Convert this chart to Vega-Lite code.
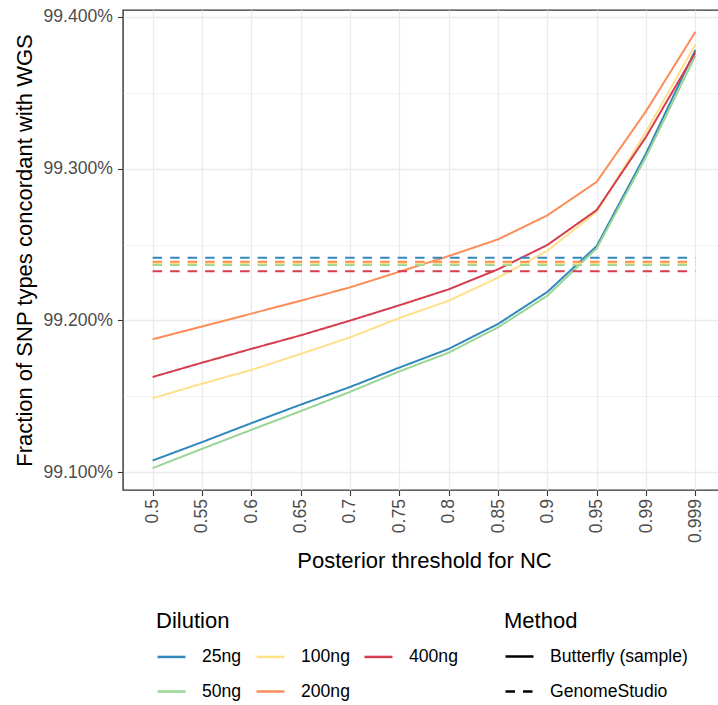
{
  "$schema": "https://vega.github.io/schema/vega-lite/v6.json",
  "width": 602,
  "height": 480,
  "autosize": {"type": "none"},
  "padding": {"left": 123, "top": 10, "right": 0, "bottom": 215},
  "background": "white",
  "config": {
    "font": "Liberation Sans",
    "view": {"stroke": "#333333", "strokeWidth": 1.4},
    "axis": {
      "domain": false,
      "tickColor": "#333333",
      "tickSize": 5.5,
      "tickWidth": 1.1,
      "labelColor": "#4D4D4D",
      "labelFontSize": 17.6,
      "labelFont": "Liberation Sans",
      "titleFont": "Liberation Sans",
      "titleFontSize": 22,
      "titleFontWeight": "normal",
      "titleColor": "black",
      "gridColor": "#EBEBEB",
      "gridWidth": 1.3
    },
    "legend": {
      "titleFont": "Liberation Sans",
      "labelFont": "Liberation Sans",
      "titleFontSize": 22,
      "titleFontWeight": "normal",
      "titleColor": "black",
      "labelFontSize": 17.6,
      "labelColor": "black",
      "symbolType": "stroke",
      "symbolSize": 784,
      "symbolStrokeWidth": 2.5,
      "labelOffset": 15,
      "columnPadding": 9,
      "rowPadding": 10,
      "titlePadding": 8
    }
  },
  "data": {
    "values": [
      {"threshold": "0.5", "dilution": "25ng", "method": "Butterfly (sample)", "concordance": 99.1078},
      {"threshold": "0.55", "dilution": "25ng", "method": "Butterfly (sample)", "concordance": 99.1199},
      {"threshold": "0.6", "dilution": "25ng", "method": "Butterfly (sample)", "concordance": 99.1324},
      {"threshold": "0.65", "dilution": "25ng", "method": "Butterfly (sample)", "concordance": 99.1446},
      {"threshold": "0.7", "dilution": "25ng", "method": "Butterfly (sample)", "concordance": 99.1562},
      {"threshold": "0.75", "dilution": "25ng", "method": "Butterfly (sample)", "concordance": 99.1690},
      {"threshold": "0.8", "dilution": "25ng", "method": "Butterfly (sample)", "concordance": 99.1813},
      {"threshold": "0.85", "dilution": "25ng", "method": "Butterfly (sample)", "concordance": 99.1977},
      {"threshold": "0.9", "dilution": "25ng", "method": "Butterfly (sample)", "concordance": 99.2188},
      {"threshold": "0.95", "dilution": "25ng", "method": "Butterfly (sample)", "concordance": 99.2490},
      {"threshold": "0.99", "dilution": "25ng", "method": "Butterfly (sample)", "concordance": 99.3100},
      {"threshold": "0.999", "dilution": "25ng", "method": "Butterfly (sample)", "concordance": 99.3781},
      {"threshold": "0.5", "dilution": "50ng", "method": "Butterfly (sample)", "concordance": 99.1028},
      {"threshold": "0.55", "dilution": "50ng", "method": "Butterfly (sample)", "concordance": 99.1155},
      {"threshold": "0.6", "dilution": "50ng", "method": "Butterfly (sample)", "concordance": 99.1280},
      {"threshold": "0.65", "dilution": "50ng", "method": "Butterfly (sample)", "concordance": 99.1403},
      {"threshold": "0.7", "dilution": "50ng", "method": "Butterfly (sample)", "concordance": 99.1530},
      {"threshold": "0.75", "dilution": "50ng", "method": "Butterfly (sample)", "concordance": 99.1665},
      {"threshold": "0.8", "dilution": "50ng", "method": "Butterfly (sample)", "concordance": 99.1788},
      {"threshold": "0.85", "dilution": "50ng", "method": "Butterfly (sample)", "concordance": 99.1955},
      {"threshold": "0.9", "dilution": "50ng", "method": "Butterfly (sample)", "concordance": 99.2163},
      {"threshold": "0.95", "dilution": "50ng", "method": "Butterfly (sample)", "concordance": 99.2475},
      {"threshold": "0.99", "dilution": "50ng", "method": "Butterfly (sample)", "concordance": 99.3078},
      {"threshold": "0.999", "dilution": "50ng", "method": "Butterfly (sample)", "concordance": 99.3742},
      {"threshold": "0.5", "dilution": "100ng", "method": "Butterfly (sample)", "concordance": 99.1488},
      {"threshold": "0.55", "dilution": "100ng", "method": "Butterfly (sample)", "concordance": 99.1584},
      {"threshold": "0.6", "dilution": "100ng", "method": "Butterfly (sample)", "concordance": 99.1674},
      {"threshold": "0.65", "dilution": "100ng", "method": "Butterfly (sample)", "concordance": 99.1780},
      {"threshold": "0.7", "dilution": "100ng", "method": "Butterfly (sample)", "concordance": 99.1889},
      {"threshold": "0.75", "dilution": "100ng", "method": "Butterfly (sample)", "concordance": 99.2016},
      {"threshold": "0.8", "dilution": "100ng", "method": "Butterfly (sample)", "concordance": 99.2130},
      {"threshold": "0.85", "dilution": "100ng", "method": "Butterfly (sample)", "concordance": 99.2282},
      {"threshold": "0.9", "dilution": "100ng", "method": "Butterfly (sample)", "concordance": 99.2459},
      {"threshold": "0.95", "dilution": "100ng", "method": "Butterfly (sample)", "concordance": 99.2716},
      {"threshold": "0.99", "dilution": "100ng", "method": "Butterfly (sample)", "concordance": 99.3242},
      {"threshold": "0.999", "dilution": "100ng", "method": "Butterfly (sample)", "concordance": 99.3817},
      {"threshold": "0.5", "dilution": "200ng", "method": "Butterfly (sample)", "concordance": 99.1876},
      {"threshold": "0.55", "dilution": "200ng", "method": "Butterfly (sample)", "concordance": 99.1960},
      {"threshold": "0.6", "dilution": "200ng", "method": "Butterfly (sample)", "concordance": 99.2045},
      {"threshold": "0.65", "dilution": "200ng", "method": "Butterfly (sample)", "concordance": 99.2130},
      {"threshold": "0.7", "dilution": "200ng", "method": "Butterfly (sample)", "concordance": 99.2218},
      {"threshold": "0.75", "dilution": "200ng", "method": "Butterfly (sample)", "concordance": 99.2321},
      {"threshold": "0.8", "dilution": "200ng", "method": "Butterfly (sample)", "concordance": 99.2424},
      {"threshold": "0.85", "dilution": "200ng", "method": "Butterfly (sample)", "concordance": 99.2534},
      {"threshold": "0.9", "dilution": "200ng", "method": "Butterfly (sample)", "concordance": 99.2692},
      {"threshold": "0.95", "dilution": "200ng", "method": "Butterfly (sample)", "concordance": 99.2913},
      {"threshold": "0.99", "dilution": "200ng", "method": "Butterfly (sample)", "concordance": 99.3378},
      {"threshold": "0.999", "dilution": "200ng", "method": "Butterfly (sample)", "concordance": 99.3900},
      {"threshold": "0.5", "dilution": "400ng", "method": "Butterfly (sample)", "concordance": 99.1628},
      {"threshold": "0.55", "dilution": "400ng", "method": "Butterfly (sample)", "concordance": 99.1722},
      {"threshold": "0.6", "dilution": "400ng", "method": "Butterfly (sample)", "concordance": 99.1813},
      {"threshold": "0.65", "dilution": "400ng", "method": "Butterfly (sample)", "concordance": 99.1902},
      {"threshold": "0.7", "dilution": "400ng", "method": "Butterfly (sample)", "concordance": 99.1999},
      {"threshold": "0.75", "dilution": "400ng", "method": "Butterfly (sample)", "concordance": 99.2100},
      {"threshold": "0.8", "dilution": "400ng", "method": "Butterfly (sample)", "concordance": 99.2205},
      {"threshold": "0.85", "dilution": "400ng", "method": "Butterfly (sample)", "concordance": 99.2337},
      {"threshold": "0.9", "dilution": "400ng", "method": "Butterfly (sample)", "concordance": 99.2497},
      {"threshold": "0.95", "dilution": "400ng", "method": "Butterfly (sample)", "concordance": 99.2727},
      {"threshold": "0.99", "dilution": "400ng", "method": "Butterfly (sample)", "concordance": 99.3209},
      {"threshold": "0.999", "dilution": "400ng", "method": "Butterfly (sample)", "concordance": 99.3764},
      {"threshold": "0.5", "dilution": "25ng", "method": "GenomeStudio", "concordance": 99.2413},
      {"threshold": "0.55", "dilution": "25ng", "method": "GenomeStudio", "concordance": 99.2413},
      {"threshold": "0.6", "dilution": "25ng", "method": "GenomeStudio", "concordance": 99.2413},
      {"threshold": "0.65", "dilution": "25ng", "method": "GenomeStudio", "concordance": 99.2413},
      {"threshold": "0.7", "dilution": "25ng", "method": "GenomeStudio", "concordance": 99.2413},
      {"threshold": "0.75", "dilution": "25ng", "method": "GenomeStudio", "concordance": 99.2413},
      {"threshold": "0.8", "dilution": "25ng", "method": "GenomeStudio", "concordance": 99.2413},
      {"threshold": "0.85", "dilution": "25ng", "method": "GenomeStudio", "concordance": 99.2413},
      {"threshold": "0.9", "dilution": "25ng", "method": "GenomeStudio", "concordance": 99.2413},
      {"threshold": "0.95", "dilution": "25ng", "method": "GenomeStudio", "concordance": 99.2413},
      {"threshold": "0.99", "dilution": "25ng", "method": "GenomeStudio", "concordance": 99.2413},
      {"threshold": "0.999", "dilution": "25ng", "method": "GenomeStudio", "concordance": 99.2413},
      {"threshold": "0.5", "dilution": "50ng", "method": "GenomeStudio", "concordance": 99.2365},
      {"threshold": "0.55", "dilution": "50ng", "method": "GenomeStudio", "concordance": 99.2365},
      {"threshold": "0.6", "dilution": "50ng", "method": "GenomeStudio", "concordance": 99.2365},
      {"threshold": "0.65", "dilution": "50ng", "method": "GenomeStudio", "concordance": 99.2365},
      {"threshold": "0.7", "dilution": "50ng", "method": "GenomeStudio", "concordance": 99.2365},
      {"threshold": "0.75", "dilution": "50ng", "method": "GenomeStudio", "concordance": 99.2365},
      {"threshold": "0.8", "dilution": "50ng", "method": "GenomeStudio", "concordance": 99.2365},
      {"threshold": "0.85", "dilution": "50ng", "method": "GenomeStudio", "concordance": 99.2365},
      {"threshold": "0.9", "dilution": "50ng", "method": "GenomeStudio", "concordance": 99.2365},
      {"threshold": "0.95", "dilution": "50ng", "method": "GenomeStudio", "concordance": 99.2365},
      {"threshold": "0.99", "dilution": "50ng", "method": "GenomeStudio", "concordance": 99.2365},
      {"threshold": "0.999", "dilution": "50ng", "method": "GenomeStudio", "concordance": 99.2365},
      {"threshold": "0.5", "dilution": "100ng", "method": "GenomeStudio", "concordance": 99.2377},
      {"threshold": "0.55", "dilution": "100ng", "method": "GenomeStudio", "concordance": 99.2377},
      {"threshold": "0.6", "dilution": "100ng", "method": "GenomeStudio", "concordance": 99.2377},
      {"threshold": "0.65", "dilution": "100ng", "method": "GenomeStudio", "concordance": 99.2377},
      {"threshold": "0.7", "dilution": "100ng", "method": "GenomeStudio", "concordance": 99.2377},
      {"threshold": "0.75", "dilution": "100ng", "method": "GenomeStudio", "concordance": 99.2377},
      {"threshold": "0.8", "dilution": "100ng", "method": "GenomeStudio", "concordance": 99.2377},
      {"threshold": "0.85", "dilution": "100ng", "method": "GenomeStudio", "concordance": 99.2377},
      {"threshold": "0.9", "dilution": "100ng", "method": "GenomeStudio", "concordance": 99.2377},
      {"threshold": "0.95", "dilution": "100ng", "method": "GenomeStudio", "concordance": 99.2377},
      {"threshold": "0.99", "dilution": "100ng", "method": "GenomeStudio", "concordance": 99.2377},
      {"threshold": "0.999", "dilution": "100ng", "method": "GenomeStudio", "concordance": 99.2377},
      {"threshold": "0.5", "dilution": "200ng", "method": "GenomeStudio", "concordance": 99.2387},
      {"threshold": "0.55", "dilution": "200ng", "method": "GenomeStudio", "concordance": 99.2387},
      {"threshold": "0.6", "dilution": "200ng", "method": "GenomeStudio", "concordance": 99.2387},
      {"threshold": "0.65", "dilution": "200ng", "method": "GenomeStudio", "concordance": 99.2387},
      {"threshold": "0.7", "dilution": "200ng", "method": "GenomeStudio", "concordance": 99.2387},
      {"threshold": "0.75", "dilution": "200ng", "method": "GenomeStudio", "concordance": 99.2387},
      {"threshold": "0.8", "dilution": "200ng", "method": "GenomeStudio", "concordance": 99.2387},
      {"threshold": "0.85", "dilution": "200ng", "method": "GenomeStudio", "concordance": 99.2387},
      {"threshold": "0.9", "dilution": "200ng", "method": "GenomeStudio", "concordance": 99.2387},
      {"threshold": "0.95", "dilution": "200ng", "method": "GenomeStudio", "concordance": 99.2387},
      {"threshold": "0.99", "dilution": "200ng", "method": "GenomeStudio", "concordance": 99.2387},
      {"threshold": "0.999", "dilution": "200ng", "method": "GenomeStudio", "concordance": 99.2387},
      {"threshold": "0.5", "dilution": "400ng", "method": "GenomeStudio", "concordance": 99.2324},
      {"threshold": "0.55", "dilution": "400ng", "method": "GenomeStudio", "concordance": 99.2324},
      {"threshold": "0.6", "dilution": "400ng", "method": "GenomeStudio", "concordance": 99.2324},
      {"threshold": "0.65", "dilution": "400ng", "method": "GenomeStudio", "concordance": 99.2324},
      {"threshold": "0.7", "dilution": "400ng", "method": "GenomeStudio", "concordance": 99.2324},
      {"threshold": "0.75", "dilution": "400ng", "method": "GenomeStudio", "concordance": 99.2324},
      {"threshold": "0.8", "dilution": "400ng", "method": "GenomeStudio", "concordance": 99.2324},
      {"threshold": "0.85", "dilution": "400ng", "method": "GenomeStudio", "concordance": 99.2324},
      {"threshold": "0.9", "dilution": "400ng", "method": "GenomeStudio", "concordance": 99.2324},
      {"threshold": "0.95", "dilution": "400ng", "method": "GenomeStudio", "concordance": 99.2324},
      {"threshold": "0.99", "dilution": "400ng", "method": "GenomeStudio", "concordance": 99.2324},
      {"threshold": "0.999", "dilution": "400ng", "method": "GenomeStudio", "concordance": 99.2324}
    ]
  },
  "resolve": {"axis": {"y": "independent"}},
  "layer": [
    {
      "mark": {"type": "rule", "opacity": 0},
      "encoding": {
        "y": {
          "field": "concordance",
          "type": "quantitative",
          "scale": {"domain": [99.0884, 99.4044], "nice": false, "zero": false},
          "axis": {
            "orient": "left",
            "title": null,
            "labels": false,
            "ticks": false,
            "grid": true,
            "gridWidth": 0.65,
            "values": [99.15, 99.25, 99.35]
          }
        }
      }
    },
    {
      "mark": {"type": "line", "strokeWidth": 2, "clip": false},
      "encoding": {
        "x": {
          "field": "threshold",
          "type": "ordinal",
          "sort": ["0.5", "0.55", "0.6", "0.65", "0.7", "0.75", "0.8", "0.85", "0.9", "0.95", "0.99", "0.999"],
          "scale": {"type": "point", "padding": 0.6},
          "axis": {
            "title": "Posterior threshold for NC",
            "labelAngle": -90,
            "labelPadding": 3,
            "titlePadding": 8,
            "grid": true
          }
        },
        "y": {
          "field": "concordance",
          "type": "quantitative",
          "scale": {"domain": [99.0884, 99.4044], "nice": false, "zero": false},
          "axis": {
            "orient": "left",
            "title": "Fraction of SNP types concordant with WGS",
            "values": [99.1, 99.2, 99.3, 99.4],
            "labelExpr": "format(datum.value, '.3f') + '%'",
            "labelPadding": 5,
            "titlePadding": 7,
            "grid": true
          }
        },
        "color": {
          "field": "dilution",
          "type": "nominal",
          "title": "Dilution",
          "scale": {
            "domain": ["25ng", "100ng", "400ng", "50ng", "200ng"],
            "range": ["#3288BD", "#FEE08B", "#D53E4F", "#99D594", "#FC8D59"]
          },
          "legend": {
            "orient": "none",
            "legendX": 33,
            "legendY": 601,
            "columns": 3,
            "direction": "horizontal"
          }
        },
        "strokeDash": {
          "field": "method",
          "type": "nominal",
          "title": "Method",
          "scale": {
            "domain": ["Butterfly (sample)", "GenomeStudio"],
            "range": [[1, 0], [9.5, 8]]
          },
          "legend": {
            "orient": "none",
            "legendX": 381,
            "legendY": 601,
            "columns": 1,
            "symbolStrokeColor": "black"
          }
        }
      }
    }
  ]
}
